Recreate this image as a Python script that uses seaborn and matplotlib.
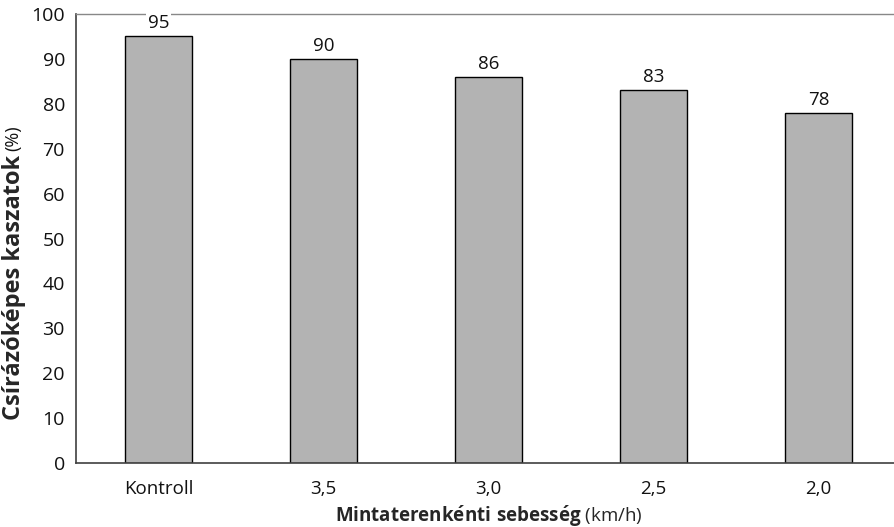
import matplotlib
matplotlib.use("Agg")
import matplotlib.pyplot as plt
import seaborn as sns
import pandas as pd

categories = ["Kontroll", "3,5", "3,0", "2,5", "2,0"]
values = [95, 90, 86, 83, 78]
yticks = [0, 10, 20, 30, 40, 50, 60, 70, 80, 90, 100]

sns.set_style("white")
FONT = "Open Sans"
plt.rcParams["font.family"] = [FONT, "DejaVu Sans"]
plt.rcParams["mathtext.fontset"] = "custom"
plt.rcParams["mathtext.bf"] = FONT + ":bold"
plt.rcParams["mathtext.rm"] = FONT
plt.rcParams["text.color"] = "#111111"

df = pd.DataFrame({"cat": categories, "val": values})

fig = plt.figure(figsize=(8.95, 5.27), dpi=100)
ax = fig.add_axes([76/895, 64/527, 825/895, 449/527])

sns.barplot(data=df, x="cat", y="val", color="#b3b3b3", edgecolor="black",
            linewidth=1, width=0.41, saturation=1, ax=ax)

ax.set_ylim(0, 100)
ax.set_xlim(-0.5, len(categories) - 0.5)
ax.set_yticks(yticks)
ax.tick_params(axis="y", which="major", direction="out", length=5, width=1,
               color="#404040", labelsize=14, pad=3, labelcolor="#111111")
ax.tick_params(axis="x", which="major", length=0, labelsize=13.5, pad=12,
               labelcolor="#111111")
ax.set_xticks([i + 0.5 for i in range(len(categories) - 1)], minor=True)
ax.tick_params(axis="x", which="minor", direction="out", length=5, width=1,
               color="#404040")

for s in ["left", "bottom"]:
    ax.spines[s].set_color("#404040")
    ax.spines[s].set_linewidth(1.2)
ax.spines["right"].set_visible(False)
ax.spines["top"].set_visible(True)
ax.spines["top"].set_color("#888888")
ax.spines["top"].set_linewidth(1)

for i, v in enumerate(values):
    ax.annotate(str(v), (i, v), xytext=(0, 3), textcoords="offset points",
                ha="center", va="bottom", fontsize=13.5,
                bbox=dict(facecolor="white", edgecolor="none", pad=1.5),
                annotation_clip=False)

ax.set_xlabel(r"$\mathbf{Mintaterenk\acute{e}nti\ sebess\acute{e}g}$ (km/h)",
              fontsize=13.5, labelpad=4)
ylab = ax.set_ylabel("Csírázóképes kaszatok", fontsize=17, fontweight="bold",
                     labelpad=4)
ylab.set_y(0.39)
ax.annotate("(%)", xy=(0.5, 1), xycoords=ylab, xytext=(0, 3),
            textcoords="offset points", rotation=90, ha="center", va="bottom",
            fontsize=13)

fig.savefig("out.png", dpi=100)
